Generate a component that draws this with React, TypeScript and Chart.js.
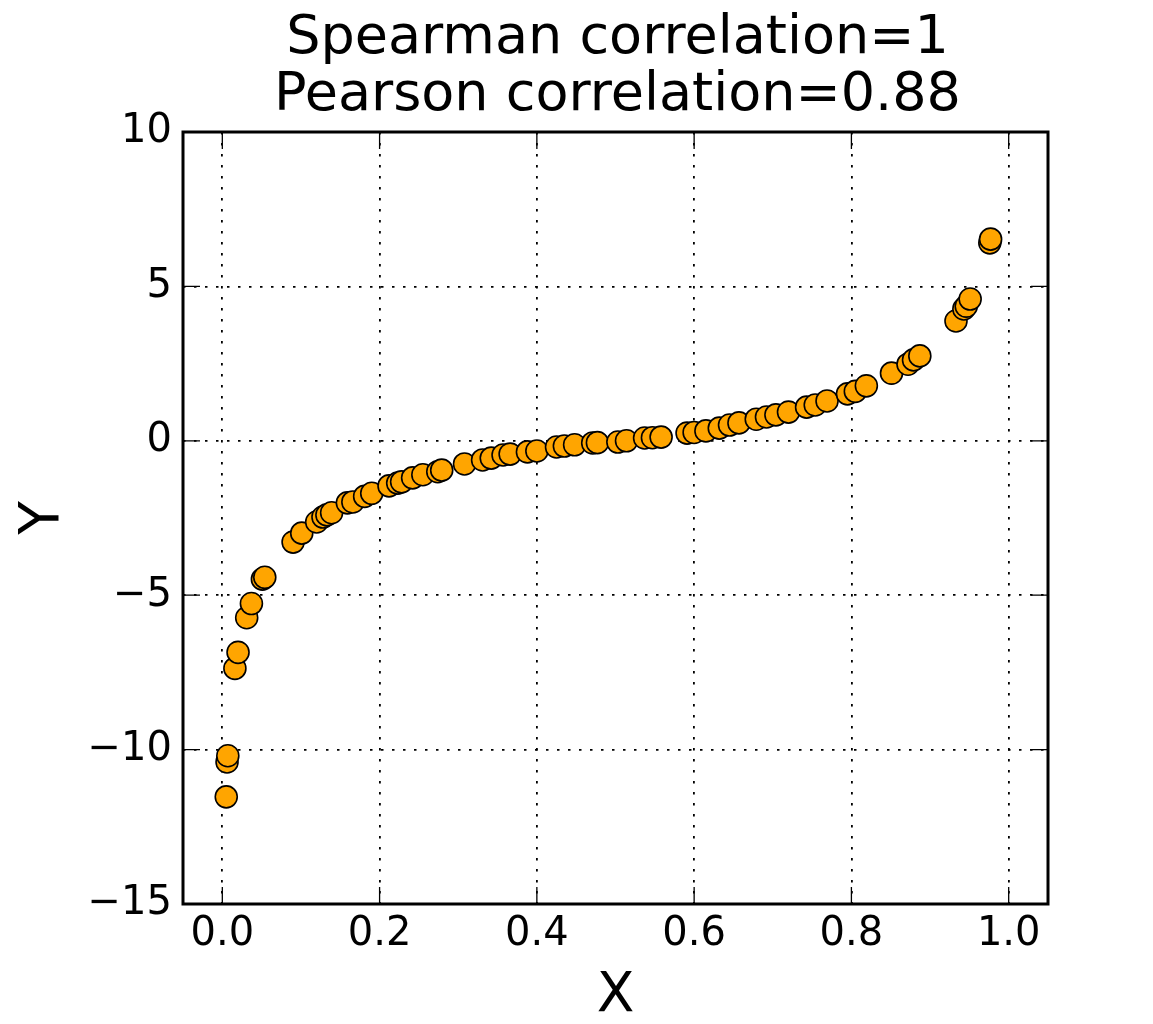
import React, { useEffect, useRef } from "react";
import { Chart, registerables } from "chart.js";

Chart.register(...registerables);

const titleLines = ["Spearman correlation=1", "Pearson correlation=0.88"];
const xTickValues = [0, 0.2, 0.4, 0.6, 0.8, 1.0];
const yTickValues = [-15, -10, -5, 0, 5, 10];

const xValues = [
  0.005, 0.006, 0.007, 0.016, 0.02, 0.031, 0.037, 0.051, 0.054, 0.09, 0.101, 0.12, 0.128, 0.133,
  0.139, 0.159, 0.166, 0.181, 0.19, 0.212, 0.223, 0.228, 0.242, 0.255, 0.274, 0.279, 0.308,
  0.331, 0.342, 0.357, 0.366, 0.388, 0.4, 0.425, 0.435, 0.448, 0.471, 0.477, 0.503, 0.514,
  0.537, 0.547, 0.558, 0.591, 0.6, 0.615, 0.632, 0.645, 0.657, 0.679, 0.692, 0.704, 0.72,
  0.743, 0.754, 0.769, 0.795, 0.805, 0.819, 0.851, 0.872, 0.879, 0.887, 0.933, 0.943, 0.946,
  0.951, 0.976, 0.977,
];
const yValues = [
  -11.53, -10.4, -10.2, -7.37, -6.85, -5.73, -5.27, -4.48, -4.42, -3.28, -2.99, -2.63, -2.47,
  -2.4, -2.33, -2.01, -1.98, -1.8, -1.7, -1.46, -1.37, -1.33, -1.2, -1.1, -1.0, -0.95, -0.75,
  -0.62, -0.56, -0.46, -0.43, -0.36, -0.33, -0.2, -0.17, -0.13, -0.07, -0.06, -0.04, 0.0,
  0.09, 0.1, 0.12, 0.25, 0.27, 0.32, 0.41, 0.51, 0.58, 0.7, 0.77, 0.84, 0.93, 1.09, 1.16,
  1.29, 1.52, 1.6, 1.78, 2.19, 2.48, 2.62, 2.75, 3.88, 4.27, 4.36, 4.59, 6.41, 6.53,
];

const FONT = "'DejaVu Sans', sans-serif";

const framePlugin = {
  id: "frameTicks",
  afterDraw(chart: any) {
    const { ctx, chartArea } = chart;
    const { left, right, top, bottom } = chartArea;
    const xs = chart.scales.x;
    const ys = chart.scales.y;
    const tl = 17;
    ctx.save();
    ctx.strokeStyle = "#000";
    ctx.lineWidth = 1.3;
    ctx.beginPath();
    xTickValues.forEach((v) => {
      const px = xs.getPixelForValue(v);
      ctx.moveTo(px, bottom);
      ctx.lineTo(px, bottom - tl);
      ctx.moveTo(px, top);
      ctx.lineTo(px, top + tl);
    });
    yTickValues.forEach((v) => {
      const py = ys.getPixelForValue(v);
      ctx.moveTo(left, py);
      ctx.lineTo(left + tl, py);
      ctx.moveTo(right, py);
      ctx.lineTo(right - tl, py);
    });
    ctx.stroke();
    ctx.lineWidth = 3;
    ctx.strokeRect(left, top, right - left, bottom - top);
    ctx.fillStyle = "#000";
    ctx.font = `54px ${FONT}`;
    ctx.textAlign = "center";
    ctx.textBaseline = "middle";
    const cx = (left + right) / 2 + 2;
    ctx.fillText(titleLines[0], cx, 39);
    ctx.fillText(titleLines[1], cx, 96);
    ctx.restore();
  },
};

export default function App() {
  const ref = useRef<HTMLCanvasElement | null>(null);
  useEffect(() => {
    if (!ref.current) return;
    const data = xValues.map((x, i) => ({ x, y: yValues[i] }));
    const chart = new Chart(ref.current, {
      type: "scatter",
      data: {
        datasets: [
          {
            data,
            pointRadius: 11,
            pointHoverRadius: 11,
            backgroundColor: "#FFA500",
            borderColor: "#000",
            borderWidth: 1.6,
          },
        ],
      },
      options: {
        responsive: false,
        animation: false,
        events: [],
        layout: { padding: { top: 132, right: 105, left: 0, bottom: 0 } },
        plugins: { legend: { display: false }, tooltip: { enabled: false }, title: { display: false } },
        scales: {
          x: {
            type: "linear",
            min: -0.05,
            max: 1.05,
            afterBuildTicks: (s: any) => {
              s.ticks = xTickValues.map((v) => ({ value: v }));
            },
            afterFit: (s: any) => {
              s.height = 120;
            },
            grid: { color: "#000", lineWidth: 1.8, drawTicks: false },
            border: { display: false, dash: [2.5, 8.5] },
            ticks: {
              color: "#000",
              padding: 7,
              font: { family: FONT, size: 40 },
              callback: (v: any) => Number(v).toFixed(1),
            },
            title: {
              display: true,
              text: "X",
              color: "#000",
              font: { family: FONT, size: 55, lineHeight: 1.0 },
              padding: { top: 0, bottom: 0 },
            },
          },
          y: {
            type: "linear",
            min: -15,
            max: 10,
            afterBuildTicks: (s: any) => {
              s.ticks = yTickValues.map((v) => ({ value: v }));
            },
            afterFit: (s: any) => {
              s.width = 183;
            },
            grid: { color: "#000", lineWidth: 1.8, drawTicks: false },
            border: { display: false, dash: [2.5, 8.5] },
            ticks: {
              color: "#000",
              padding: 11,
              font: { family: FONT, size: 40 },
              callback: (v: any) => (Number(v) < 0 ? "\u2212" + Math.abs(Number(v)) : String(v)),
            },
            title: {
              display: true,
              text: "Y",
              color: "#000",
              font: { family: FONT, size: 55, lineHeight: 1.0 },
              padding: { top: 16, bottom: 0 },
            },
          },
        },
      },
      plugins: [framePlugin],
    });
    return () => chart.destroy();
  }, []);
  return (
    <div style={{ position: "fixed", left: 0, top: 0, width: 1153, height: 1024, background: "#fff" }}>
      <canvas ref={ref} width={1153} height={1024} style={{ display: "block" }} />
    </div>
  );
}
